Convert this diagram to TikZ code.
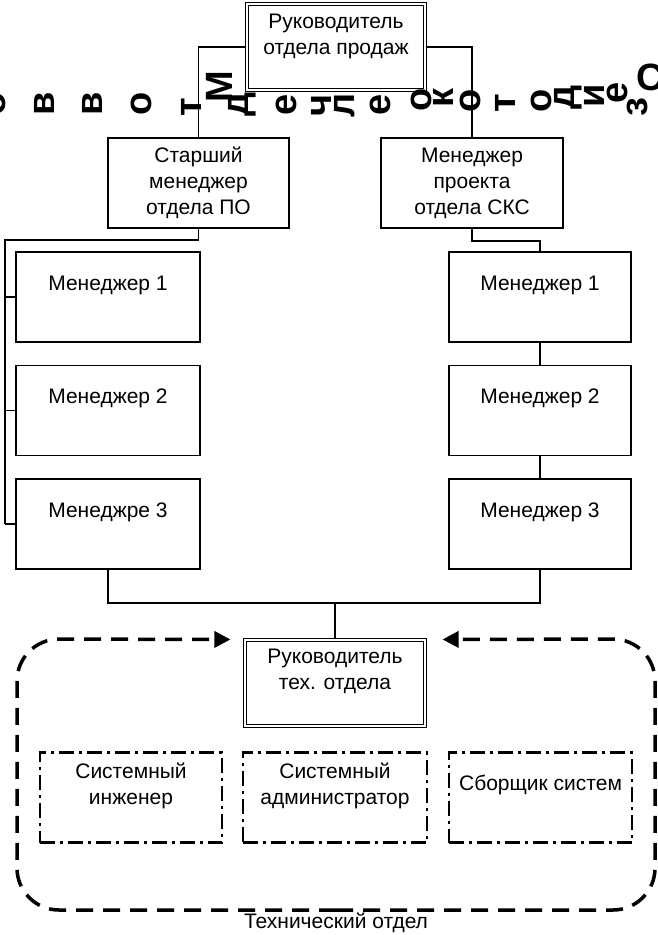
\documentclass[tikz,border=0pt]{standalone}
\usepackage{fontspec}
\setmainfont{Liberation Sans}
\usetikzlibrary{positioning,arrows.meta}

\tikzset{
  box/.style={draw, line width=1.6pt, minimum width=182pt, minimum height=90pt, inner sep=0pt, font=\fontsize{21}{26}\selectfont},
  mgr/.style={box, text height=15pt, text depth=29pt},
  bossbox/.style={box, double, double distance=2.4pt, line width=1.1pt, minimum width=178pt, minimum height=86pt},
  staff/.style={box, line width=2.8pt, dash pattern=on 15pt off 5pt on 3pt off 5pt},
  txt/.style={inner sep=0pt, align=center, font=\fontsize{21}{26}\selectfont},
  link/.style={line width=1.4pt},
  deptline/.style={line width=3.5pt, dash pattern=on 17pt off 10pt, rounded corners=42pt, -{Triangle[length=16pt,width=16pt]}},
  glyph/.style={inner sep=0pt, font=\fontsize{38}{38}\selectfont\bfseries},
}

\begin{document}
\begin{tikzpicture}[x=1pt, y=-1pt]
    \useasboundingbox (0,0) rectangle (658,935);

    % sales department
    \node[bossbox] (sales) at (336,47) {};
    \node[txt] (salestxt) at ([yshift=11pt]sales.center) {Руководитель\\отдела продаж};

    \node[box, align=center, minimum width=181pt] (senior) at (198.5,183) {Старший\\менеджер\\отдела ПО};
    \node[box, align=center] (proj) at (472,183) {Менеджер\\проекта\\отдела СКС};

    \node[mgr, minimum width=184pt] (l1) at (108,297) {Менеджер 1};
    \node[mgr, minimum width=184pt] (l2) at (108,410.5) {Менеджер 2};
    \node[mgr, minimum width=184pt] (l3) at (108,524) {Менеджре 3};
    \node[mgr] (r1) at (540,297) {Менеджер 1};
    \node[mgr] (r2) at (540,410.5) {Менеджер 2};
    \node[mgr] (r3) at (540,524) {Менеджер 3};

    \draw[link] (sales.west) -| (senior.north);
    \draw[link] (sales.east) -| (proj.north);

    \coordinate (bus) at (5,240);
    \draw[link] (senior.south) |- (bus) -- (bus |- l3.west);
    \foreach \m in {l1,l2,l3}
        \draw[link] (bus |- \m.west) -- (\m.west);

    \draw[link] (proj.south) -- ++(0,12) -| (r1.north);
    \draw[link] (r1.south) -- (r2.north);
    \draw[link] (r2.south) -- (r3.north);

    % technical department
    \node[bossbox, minimum width=180pt] (tech) at (335,683) {};
    \node[txt] (techtxt) at ([yshift=12pt]tech.center) {Руководитель\\тех. отдела};

    \coordinate (join) at (336,603);
    \draw[link] (l3.south) |- (join) -| (r3.south);
    \draw[link] (tech.north) -- (tech.north |- join);

    \node[staff] (sys1) at (131,797.5) {};
    \node[staff, minimum width=184pt] (sys2) at (335,797.5) {};
    \node[staff, minimum width=183pt] (sys3) at (540.5,797.5) {};
    \node[txt] (sys1txt) at ([yshift=11.5pt]sys1.center) {Системный\\инженер};
    \node[txt] (sys2txt) at ([yshift=11.5pt]sys2.center) {Системный\\администратор};
    \node[txt] (sys3txt) at ([yshift=13pt]sys3.center) {Сборщик систем};

    \coordinate (deptbot) at (336,910);
    \draw[deptline] (deptbot) -- (17,910) -- (17,639) -- ([xshift=-14pt]tech.north west);
    \draw[deptline] (deptbot) -- (655,910) -- (655,639) -- ([xshift=17pt]tech.north east);
    \node[txt] (deptname) at (336,923) {Технический отдел};

    % broken caption along the top
    \foreach \ch/\gx/\gy/\ga [count=\i] in {о/-5/104/90, в/44/104/90, в/92/104/90, о/141/104/90,
        т/191/107/90, М/219/87/90, д/242/104/90, е/286/105/90, ч/321/105/90, л/345/105/90,
        е/380/105/90, о/421/100/90, к/443/98/90, о/470/101/90, т/505/103/90, о/541/101/90,
        д/568/97/90, и/594/96/90, е/617/93/90, з/637/107/90, С/650/77/0}
        \node[glyph, rotate=\ga] (g\i) at (\gx,\gy) {\ch};
\end{tikzpicture}
\end{document}
